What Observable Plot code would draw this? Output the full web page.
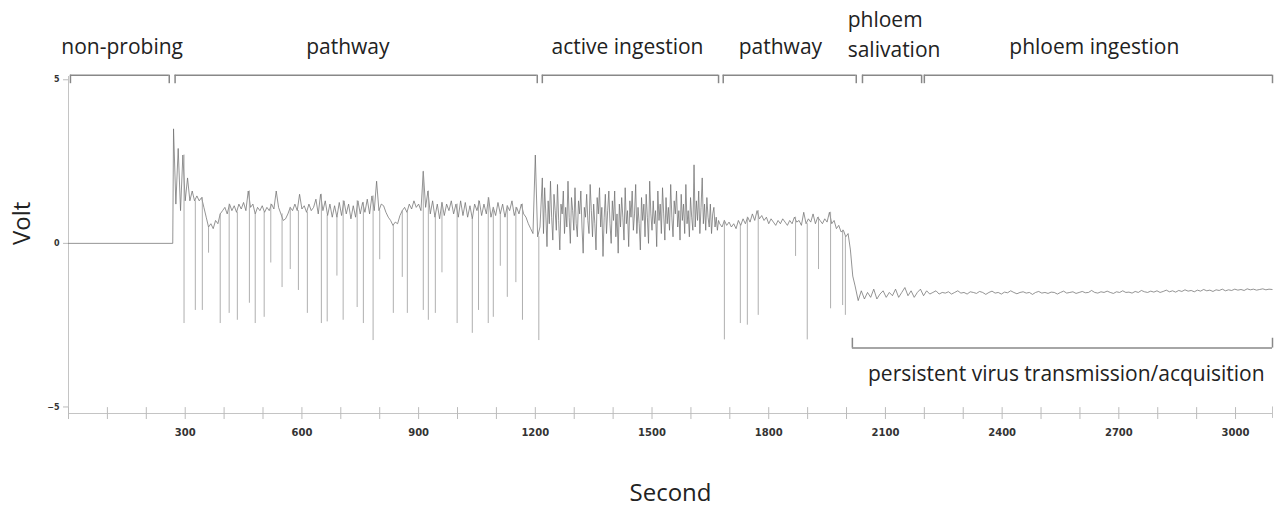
<!DOCTYPE html>
<html><head><meta charset="utf-8">
<script src="https://cdn.jsdelivr.net/npm/d3@7"></script>
<script src="https://cdn.jsdelivr.net/npm/@observablehq/plot@0.6"></script>
<style>html,body{margin:0;padding:0;background:#fff}</style>
</head><body><div id="chart"></div>
<script>
// ---- phases (seconds) ----
const phaseNames = ["non-probing", "pathway", "active ingestion", "pathway", "phloem\nsalivation", "phloem ingestion"];
const phaseStart = [5, 274, 1218, 1683, 2041, 2200];
const phaseEnd   = [259, 1205, 1671, 2025, 2193, 3095];
const phaseLabelT = [138, 718, 1437, 1830, 2003, 2637];
const persistentLabel = "persistent virus transmission/acquisition";
const persistentStart = 2015, persistentEnd = 3095, persistentLabelT = 2565;

// ---- axes ----
const yTicks = [-5, 0, 5];
const xTickLabels = [300, 600, 900, 1200, 1500, 1800, 2100, 2400, 2700, 3000];
const xMinorTicks = d3.range(0, 3001, 100);

// ---- EPG trace (volts) ----
const nonProbingT = [0, 268];
const nonProbingV = [0, 0];

const pathway1Start = 270, pathway1Step = 6;
const pathway1V = [
  3.5, 1.2, 2.9, 1.0, 2.7, 1.3, 2.0, 1.3, 1.6, 1.3,
  1.45, 1.3, 1.4, 1.1, 0.8, 0.5, 0.6, 0.45, 0.7, 0.6,
  0.9, 1.0, 1.1, 0.9, 1.2, 1.0, 1.15, 0.95, 1.2, 1.05,
  1.25, 1.0, 1.6, 1.1, 1.2, 0.9, 1.1, 1.0, 1.15, 0.95,
  1.1, 1.0, 1.2, 1.05, 1.6, 1.1, 0.9, 0.7, 0.75, 0.9,
  1.1, 1.0, 1.2, 1.0, 1.5, 1.05, 1.15, 0.95, 1.2, 1.0,
  1.1, 1.35, 0.9, 1.5, 1.0, 1.3, 0.85, 1.2, 0.8, 1.15,
  0.8, 1.25, 0.85, 1.3, 0.9, 1.2, 0.75, 1.15, 0.8, 1.3,
  0.9, 1.25, 0.95, 1.35, 0.9, 1.45, 1.0, 1.9, 1.0, 1.2,
  1.15, 0.95, 0.8, 0.7, 0.55, 0.65, 0.6, 0.85, 1.0, 1.1,
  0.95, 1.2, 1.05, 1.3, 1.1, 1.2, 1.0, 2.2, 1.1, 1.6,
  0.9, 1.3, 0.8, 1.2, 0.75, 1.25, 0.85, 1.2, 1.0, 1.3,
  0.9, 1.2, 0.8, 1.3, 0.85, 1.25, 0.8, 1.15, 0.75, 1.2,
  1.0, 1.3, 0.85, 1.2, 0.9, 1.4, 0.8, 1.1, 0.85, 1.25,
  0.9, 1.2, 0.8, 1.15, 1.0, 1.3, 0.85, 1.1, 0.9, 1.2,
  0.9, 0.8, 0.6, 0.45, 0.3, 2.7, 0.2, 0.5
];

const ingestionStart = 1218, ingestionStep = 3;
const ingestionV = [
  2.0, 0.3, 1.7, 0.9, -0.1, 1.3, 0.6, 1.9, 0.8, 0.1,
  1.5, 1.0, 0.4, 1.8, 0.7, -0.2, 1.2, 0.9, 1.6, 0.3,
  1.1, 0.5, 1.9, 0.8, 0.0, 1.4, 1.0, 0.4, 1.7, 0.6,
  0.2, 1.3, 0.9, 1.6, 0.5, -0.3, 1.1, 0.8, 1.5, 0.7,
  0.3, 1.8, 1.0, 0.2, 1.2, 0.6, -0.2, 1.4, 0.9, 1.7,
  0.5, 1.1, -0.4, 0.8, 1.5, 0.3, 1.0, 1.6, 0.6, 0.0,
  1.3, 0.7, 1.6, 0.2, 0.9, -0.3, 1.2, 0.5, 1.4, 0.8,
  0.1, 1.7, 0.6, 1.0, -0.1, 1.3, 0.8, 1.6, 0.4, 0.9,
  1.8, 0.3, 1.1, 0.6, -0.2, 1.4, 0.7, 1.2, 0.2, 1.5,
  0.8, 0.0, 1.9, 0.9, 0.4, 1.3, 0.6, 1.0, -0.1, 1.6,
  0.7, 1.2, 0.3, 1.7, 0.9, 0.1, 1.4, 0.6, 1.1, 0.4,
  1.8, 0.8, 0.2, 1.3, 0.9, 1.6, 0.5, 1.0, 0.1, 1.5,
  0.7, 1.2, 0.3, 1.8, 0.6, 1.0, 0.2, 1.4, 0.8, 0.4,
  2.4, 0.5, 1.3, 0.7, 1.6, 0.3, 1.1, 2.0, 0.6, 1.2,
  0.4, 1.4, 0.8, 0.5, 1.2, 0.3, 0.9, 1.1, 0.5, 0.8,
  0.4, 0.7, 0.6
];

const pathway2Start = 1680, pathway2Step = 6;
const pathway2V = [
  0.5, 0.7, 0.55, 0.65, 0.5, 0.6, 0.45, 0.7, 0.55, 0.75,
  0.6, 0.8, 0.65, 0.9, 0.7, 1.0, 0.75, 0.85, 0.7, 0.8,
  0.6, 0.75, 0.65, 0.55, 0.7, 0.6, 0.75, 0.65, 0.55, 0.7,
  0.6, 0.8, 0.65, 0.7, 0.55, 0.95, 0.6, 0.75, 0.65, 0.9,
  0.6, 0.8, 0.7, 0.6, 0.75, 0.65, 0.95, 0.6, 0.7, 0.45,
  0.55, 0.35, 0.4, 0.2, 0.3, -0.2, -1.0
];

const phloemStart = 2022, phloemStep = 8;
const phloemV = [
  -1.3, -1.75, -1.45, -1.7, -1.5, -1.65, -1.4, -1.7, -1.55, -1.45,
  -1.65, -1.5, -1.6, -1.4, -1.65, -1.5, -1.35, -1.6, -1.45, -1.65,
  -1.5, -1.4, -1.6, -1.45, -1.55, -1.5, -1.45, -1.55, -1.5, -1.52,
  -1.48, -1.55, -1.5, -1.45, -1.52, -1.5, -1.55, -1.48, -1.5, -1.53,
  -1.47, -1.5, -1.56, -1.5, -1.46, -1.52, -1.5, -1.55, -1.49, -1.51,
  -1.45, -1.5, -1.54, -1.5, -1.48, -1.52, -1.5, -1.56, -1.5, -1.47,
  -1.52, -1.5, -1.53, -1.49, -1.5, -1.55, -1.5, -1.46, -1.52, -1.5,
  -1.48, -1.53, -1.5, -1.47, -1.51, -1.5, -1.44, -1.5, -1.52, -1.48,
  -1.5, -1.46, -1.5, -1.53, -1.48, -1.5, -1.45, -1.5, -1.49, -1.52,
  -1.47, -1.5, -1.44, -1.48, -1.5, -1.46, -1.49, -1.45, -1.5, -1.47,
  -1.43, -1.48, -1.45, -1.49, -1.44, -1.47, -1.42, -1.46, -1.44, -1.48,
  -1.43, -1.46, -1.41, -1.45, -1.43, -1.47, -1.42, -1.44, -1.4, -1.45,
  -1.42, -1.44, -1.4, -1.43, -1.41, -1.44, -1.39, -1.42, -1.4, -1.43,
  -1.41, -1.39, -1.42, -1.4, -1.41
];

// downward spikes (time, minimum volt)
const spikeT = [297, 326, 344, 360, 390, 413, 434, 465, 480, 503, 520, 549, 570, 591, 614, 650, 665, 690, 706, 742, 758, 783, 800, 835, 858, 871, 912, 925, 943, 960, 999, 1038, 1054, 1079, 1092, 1110, 1128, 1150, 1167, 1209,
  1686, 1727, 1745, 1773, 1869, 1899, 1928, 1959, 1990, 1997];
const spikeV = [-2.45, -2.05, -2.05, -0.3, -2.45, -2.14, -2.35, -1.83, -2.45, -2.26, -0.6, -1.35, -0.8, -1.44, -2.14, -2.45, -2.4, -1.0, -2.35, -1.96, -2.45, -2.97, -0.5, -2.14, -1.04, -2.14, -2.05, -2.35, -2.14, -0.9, -2.45, -2.75, -2.05, -2.45, -2.26, -0.7, -1.65, -1.2, -2.35, -2.97,
  -2.95, -2.45, -2.5, -2.2, -0.4, -2.95, -0.8, -2.0, -1.9, -2.2];

// ---- build tables ----
const trace = [];
nonProbingT.forEach((t, i) => trace.push({t, v: nonProbingV[i]}));
const addRun = (start, step, vals) => vals.forEach((v, i) => trace.push({t: start + i * step, v}));
addRun(pathway1Start, pathway1Step, pathway1V);
addRun(ingestionStart, ingestionStep, ingestionV);
addRun(pathway2Start, pathway2Step, pathway2V);
addRun(phloemStart, phloemStep, phloemV);

const baseAt = t => trace[d3.minIndex(trace, d => Math.abs(d.t - t))].v;
const spikes = spikeT.map((t, i) => ({t, v: spikeV[i], from: baseAt(t)}));

const phases = phaseNames.map((name, i) => ({name, start: phaseStart[i], end: phaseEnd[i], labelT: phaseLabelT[i]}));
const phaseEnds = phases.flatMap(p => [p.start, p.end]);

const bracketTop = 5.14, bracketTopTick = 4.88;
const bracketBottom = -3.2, bracketBottomTick = -2.9;
const labelFont = {fontSize: 21, fontFamily: "Open Sans", fill: "#222"};

const chart = Plot.plot({
  width: 1277, height: 508,
  marginLeft: 68, marginRight: 5, marginTop: 76, marginBottom: 95,
  x: {domain: [0, 3095]},
  y: {domain: [-5.2, 5.1]},
  style: {fontFamily: "DejaVu Sans", background: "#fff", overflow: "visible"},
  marks: [
    Plot.ruleX([0], {stroke: "#c4c4c4"}),
    Plot.ruleY([-5.2], {stroke: "#c4c4c4"}),
    Plot.ruleX([3095], {y1: -5.35, y2: -5.0, stroke: "#c4c4c4"}),
    Plot.axisY({ticks: yTicks, tickSize: 5, tickPadding: 4, fontSize: 8, fontWeight: "bold", fill: "#333", stroke: "#bbb", label: null}),
    Plot.axisX({ticks: xMinorTicks, tickSize: 6, tickPadding: 9, tickFormat: d => xTickLabels.includes(d) ? String(d) : "", fontSize: 10, fontWeight: "bold", fill: "#333", stroke: "#bbb", label: null}),
    Plot.ruleX(xMinorTicks, {y1: -5.2, y2: -5.02, stroke: "#bbb"}),
    Plot.line(trace, {x: "t", y: "v", stroke: "#707070", strokeWidth: 0.75}),
    Plot.ruleX(spikes, {x: "t", y1: "from", y2: "v", stroke: "#9a9a9a", strokeWidth: 0.8}),
    // top brackets
    Plot.ruleY(phases, {x1: "start", x2: "end", y: bracketTop, stroke: "#888", strokeWidth: 1.5}),
    Plot.ruleX(phaseEnds, {y1: bracketTop, y2: bracketTopTick, stroke: "#888", strokeWidth: 1.5}),
    Plot.text(phases.filter(p => !p.name.includes("\n")), {x: "labelT", text: "name", frameAnchor: "top", lineAnchor: "middle", dy: -29, ...labelFont}),
    Plot.text(phases.filter(p => p.name.includes("\n")), {x: "labelT", text: "name", frameAnchor: "top", lineAnchor: "middle", dy: -44, lineHeight: 1.4, textAnchor: "start", ...labelFont}),
    // bottom bracket
    Plot.ruleY([0], {x1: persistentStart, x2: persistentEnd, y: bracketBottom, stroke: "#888", strokeWidth: 1.5}),
    Plot.ruleX([persistentStart, persistentEnd], {y1: bracketBottom, y2: bracketBottomTick, stroke: "#888", strokeWidth: 1.5}),
    Plot.text([persistentLabel], {x: persistentLabelT, y: bracketBottom, dy: 26, text: d => d, ...labelFont}),
    // axis titles
    Plot.text(["Volt"], {frameAnchor: "left", dx: -46, rotate: -90, text: d => d, fontSize: 24, fontFamily: "Open Sans", fill: "#222"}),
    Plot.text(["Second"], {frameAnchor: "bottom", dy: 87, text: d => d, fontSize: 24, fontFamily: "Open Sans", fill: "#222"})
  ]
});
document.getElementById("chart").appendChild(chart);
</script>
</body></html>
